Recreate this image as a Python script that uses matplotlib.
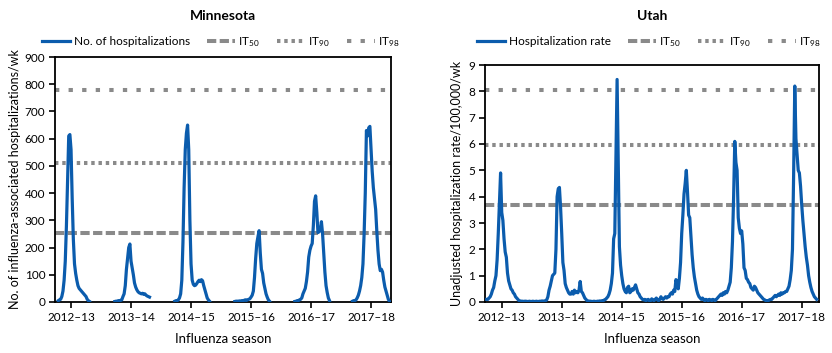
import numpy as np
import matplotlib.pyplot as plt

plt.rcParams['font.family'] = ['Lato', 'DejaVu Sans']
plt.rcParams['mathtext.fontset'] = 'custom'
plt.rcParams['mathtext.rm'] = 'Lato'
plt.rcParams['mathtext.it'] = 'Lato:italic'

# seasons and tick weeks (week 0 = first week of Oct 2012)
seasons = ['2012–13', '2013–14', '2014–15', '2015–16', '2016–17', '2017–18']
season_ticks = [13, 65, 117, 169, 221, 273]

# Minnesota: weekly counts, only reported during each season
mn_start = [2, 51, 103, 155, 207, 257]
mn_2012_13 = [5, 8, 10, 20, 40, 80, 150, 280, 450, 610, 615, 560, 380, 230,
              140, 105, 80, 60, 50, 45, 40, 35, 30, 25, 20, 10, 5, 2]
mn_2013_14 = [2, 3, 3, 5, 5, 6, 8, 20, 30, 60, 120, 160, 200, 213, 150, 125,
              100, 70, 55, 45, 38, 34, 32, 30, 32, 28, 30, 25, 22, 20, 18]
mn_2014_15 = [3, 5, 5, 8, 15, 30, 80, 220, 420, 560, 620, 650, 560, 300, 140,
              80, 65, 60, 62, 68, 75, 80, 75, 82, 78, 60, 45, 30, 15, 8, 3]
mn_2015_16 = [2, 3, 3, 3, 4, 3, 5, 5, 6, 8, 6, 8, 10, 12, 18, 25, 40, 90, 160,
              215, 240, 262, 180, 120, 105, 70, 50, 30, 18, 8, 3]
mn_2016_17 = [2, 3, 5, 5, 8, 10, 15, 30, 40, 50, 75, 110, 165, 190, 205, 215,
              280, 370, 390, 330, 255, 258, 265, 295, 250, 180, 110, 60, 35,
              15, 5]
mn_2017_18 = [3, 5, 5, 8, 15, 25, 40, 60, 90, 140, 250, 400, 630, 610, 640,
              645, 560, 480, 420, 380, 340, 260, 190, 140, 115, 120, 110, 80,
              55, 40, 25, 10, 2]
mn_it = [252, 512, 779]

# Utah: weekly rate per 100,000, all year round
ut_2012_13 = [0.1, 0.1, 0.15, 0.2, 0.3, 0.45, 0.55, 0.8, 1.0, 1.6,
              2.6, 3.8, 4.9, 3.4, 3.1, 2.4, 1.9, 1.7, 1.1, 0.8,
              0.65, 0.5, 0.45, 0.35, 0.3, 0.2, 0.15, 0.1, 0.05, 0.04,
              0.03, 0.03, 0.02, 0.03, 0.03, 0.02, 0.02, 0.03, 0.02, 0.02,
              0.03, 0.02, 0.02, 0.03, 0.02, 0.02, 0.03, 0.03, 0.04, 0.03,
              0.04, 0.05]
ut_2013_14 = [0.08, 0.2, 0.45, 0.6, 0.8, 1.0, 1.05, 1.1, 2.0, 4.0,
              4.3, 4.35, 3.6, 2.6, 1.5, 1.2, 0.7, 0.55, 0.45, 0.35,
              0.3, 0.3, 0.4, 0.3, 0.45, 0.35, 0.4, 0.35, 0.45, 0.78,
              0.4, 0.35, 0.25, 0.15, 0.1, 0.05, 0.04, 0.03, 0.03, 0.02,
              0.02, 0.03, 0.02, 0.02, 0.03, 0.03, 0.04, 0.03, 0.05, 0.05,
              0.08, 0.1]
ut_2014_15 = [0.15, 0.2, 0.3, 0.45, 0.7, 1.1, 2.4, 2.6, 5.4, 8.45,
              5.2, 2.1, 1.4, 1.0, 0.7, 0.5, 0.4, 0.35, 0.55, 0.6,
              0.35, 0.4, 0.5, 0.45, 0.55, 0.65, 0.5, 0.35, 0.3, 0.2,
              0.15, 0.1, 0.08, 0.1, 0.05, 0.08, 0.1, 0.05, 0.05, 0.12,
              0.08, 0.05, 0.1, 0.15, 0.08, 0.05, 0.1, 0.2, 0.12, 0.1,
              0.15, 0.2]
ut_2015_16 = [0.15, 0.2, 0.2, 0.3, 0.35, 0.3, 0.45, 0.4, 0.85, 0.7,
              0.5, 0.9, 1.5, 2.6, 3.3, 4.1, 4.5, 5.0, 4.2, 3.3,
              3.2, 2.5, 1.8, 1.3, 0.95, 0.7, 0.45, 0.3, 0.2, 0.15,
              0.1, 0.15, 0.1, 0.05, 0.1, 0.08, 0.05, 0.1, 0.08, 0.05,
              0.1, 0.08, 0.05, 0.1, 0.15, 0.2, 0.25, 0.3, 0.25, 0.35,
              0.3, 0.4]
ut_2016_17 = [0.35, 0.45, 0.6, 0.75, 1.3, 2.3, 4.0, 6.1, 5.3, 5.0,
              3.2, 2.8, 2.6, 2.7, 2.2, 1.3, 1.2, 0.9, 0.85, 0.75,
              0.7, 0.55, 0.5, 0.45, 0.6, 0.55, 0.45, 0.35, 0.3, 0.25,
              0.2, 0.15, 0.1, 0.08, 0.05, 0.05, 0.05, 0.08, 0.1, 0.1,
              0.15, 0.2, 0.25, 0.2, 0.25, 0.3, 0.25, 0.35, 0.3, 0.35,
              0.35, 0.4]
ut_2017_18 = [0.4, 0.5, 0.6, 0.85, 1.2, 2.0, 4.8, 8.2, 6.2, 5.6,
              5.0, 4.9, 4.4, 3.7, 3.1, 2.6, 2.1, 1.7, 1.4, 1.0,
              0.75, 0.55, 0.4, 0.3, 0.2, 0.15, 0.1]
ut_it = [3.67, 5.96, 8.05]

blue = '#0b5cad'
gray = '#8a8a8a'
it_labels = ['IT$_{50}$', 'IT$_{90}$', 'IT$_{98}$']
it_dashes = [(0, (2.3, 0.85)), (0, (0.85, 0.95)), (0, (1.07, 2.3))]

# assemble series
mn_parts = [mn_2012_13, mn_2013_14, mn_2014_15, mn_2015_16, mn_2016_17, mn_2017_18]
mn = np.full(291, np.nan)
for s, part in zip(mn_start, mn_parts):
    mn[s:s + len(part)] = part
ut = np.array(ut_2012_13 + ut_2013_14 + ut_2014_15 + ut_2015_16 + ut_2016_17 + ut_2017_18)

fig = plt.figure(figsize=(8.32, 3.53), dpi=100)
ax1 = fig.add_axes([55 / 832, 51 / 353, 336 / 832, 245 / 353])
ax2 = fig.add_axes([485 / 832, 51 / 353, 334 / 832, 237 / 353])


def panel(ax, y, label, thresholds, ymax, ystep, xlim):
    ax.plot(np.arange(len(y)), y, color=blue, lw=2.3, label=label,
            solid_joinstyle='round', zorder=3)
    for t, lab, ls in zip(thresholds, it_labels, it_dashes):
        ax.axhline(t, color=gray, lw=2.9, linestyle=ls, label=lab, zorder=2)
    ax.set_xlim(*xlim)
    ax.set_ylim(0, ymax)
    ax.set_yticks(np.arange(0, ymax + ystep / 2, ystep))
    ax.set_xticks(season_ticks, seasons)
    ax.tick_params(direction='out', length=4, width=1.2, labelsize=8.5, pad=3)
    for sp in ax.spines.values():
        sp.set_linewidth(1.3)
    ax.set_xlabel('Influenza season', fontsize=9.5)


panel(ax1, mn, 'No. of hospitalizations', mn_it, 900, 100, (-0.9, 290.3))
panel(ax2, ut, 'Hospitalization rate', ut_it, 9, 1, (-1.5, 288))

ax1.set_ylabel('No. of influenza-associated hospitalizations/wk', fontsize=9)
ax2.set_ylabel('Unadjusted hospitalization rate/100,000/wk', fontsize=9)
ax1.yaxis.set_label_coords(-0.10, 0.5)
ax2.yaxis.set_label_coords(-0.066, 0.5)
ax1.xaxis.set_label_coords(0.5, -0.125)
ax2.xaxis.set_label_coords(0.5, -0.13)

fig.text(223 / 832, 1 - 16 / 353, 'Minnesota', ha='center', va='center',
         fontsize=10, fontweight='bold')
fig.text(652 / 832, 1 - 16 / 353, 'Utah', ha='center', va='center',
         fontsize=10, fontweight='bold')

for ax, cx in [(ax1, 221 / 832), (ax2, 649 / 832)]:
    ax.legend(loc='center', bbox_to_anchor=(cx, 1 - 42 / 353),
              bbox_transform=fig.transFigure, ncol=4, frameon=False,
              fontsize=8.5, handlelength=2.4, columnspacing=1.4,
              handletextpad=0.3, borderpad=0)

fig.savefig('out.png', dpi=100)
